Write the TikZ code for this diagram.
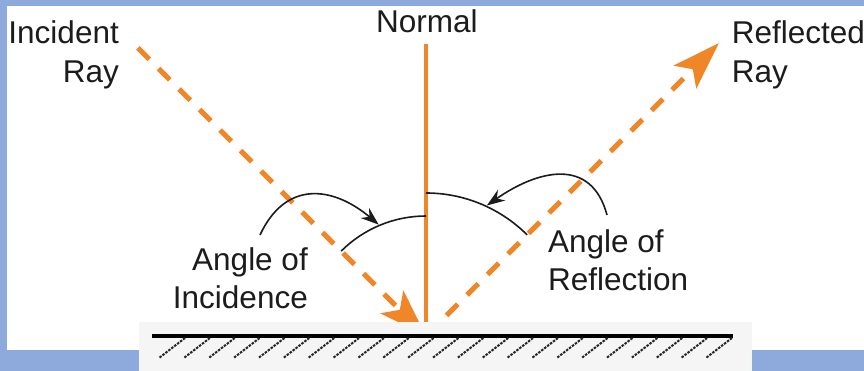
\documentclass[tikz,border=0pt]{standalone}
\usepackage{fontspec}
\setmainfont{Liberation Sans}
\usetikzlibrary{arrows.meta, calc}
\definecolor{rayorange}{RGB}{239,134,40}
\definecolor{slideblue}{RGB}{142,169,219}
\definecolor{inkgray}{RGB}{28,28,28}

\begin{document}
\begin{tikzpicture}[x=1pt, y=1pt,
  ray/.style={rayorange, line width=5pt, dash pattern=on 16pt off 13pt},
  bigtip/.style={-{Stealth[length=48pt, width=32pt, inset=11pt]}},
  lbl/.style={inner sep=0pt, text=inkgray, font=\fontsize{31.5}{38.5}\selectfont},
  bendarrow/.style={inkgray, line width=1.6pt, -{Stealth[length=18pt, width=13pt]}, looseness=1.3}]
  % slide frame
  \fill[slideblue] (0,0) rectangle (864,-371);
  \useasboundingbox (0,0) rectangle (864,-371);
  \fill[white] (7,-6) rectangle (864,-350);
  % point of incidence and ray ends
  \coordinate (O) at (426,-336);
  \coordinate (normtop) at (426,-44);
  \coordinate (inctail) at (138,-48);
  \coordinate (reftip) at (719,-43);
  % normal and rays
  \draw[rayorange, line width=3.2pt] (normtop) -- (O);
  \draw[ray, bigtip] (inctail) -- (O);
  \draw[ray, bigtip] (O) -- (reftip);
  % angle arcs
  \draw[inkgray, line width=1.6pt] ($(O)+(90:120)$) arc[start angle=90, end angle=135, radius=120];
  \draw[inkgray, line width=1.6pt] ($(O)+(45:143)$) arc[start angle=45, end angle=90, radius=143];
  \coordinate (incmark) at ($(O)+(113:121)$);
  \coordinate (refmark) at ($(O)+(65:144)$);
  \coordinate (incfoot) at (260,-235);
  \coordinate (reffoot) at (607,-215);
  \draw[bendarrow] (incfoot) to[out=65, in=140] (incmark);
  \draw[bendarrow] (reffoot) to[out=105, in=35] (refmark);
  % labels
  \node[lbl, anchor=north east, align=right] (incray) at (119,-20.5) {Incident\\Ray};
  \node[lbl, anchor=base] (normal) at (426.8,-33) {Normal};
  \node[lbl, anchor=north west, align=left] (refray) at (731.7,-20.5) {Reflected\\Ray};
  \node[lbl, anchor=north east, align=right] (incang) at (308,-247.4) {Angle of\\Incidence};
  \node[lbl, anchor=north west, align=left] (refang) at (548,-229.4) {Angle of\\Reflection};
  % mirror
  \fill[white!96!black] (139,-322) rectangle (752,-371);
  \draw[black, line width=3.8pt] (152,-336) -- (733,-336);
  \foreach \i in {0,...,22}
    \draw[black!85, line width=2pt, dash pattern=on 2.5pt off 1.2pt] ({185+24.86*\i},-338) -- ++(-26,-20);
\end{tikzpicture}
\end{document}
